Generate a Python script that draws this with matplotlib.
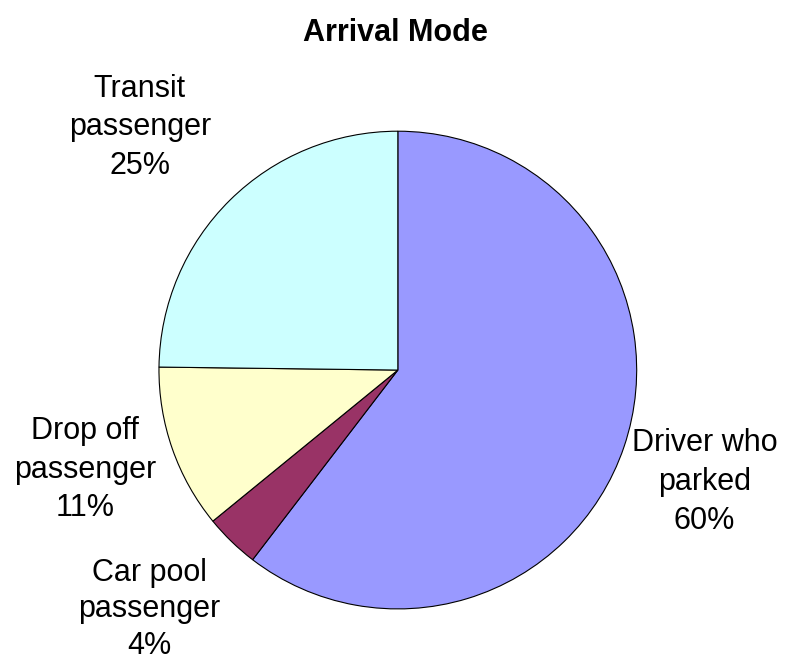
import numpy as np
import matplotlib.pyplot as plt

# arrival mode shares (%), clockwise from 12 o'clock
modes = ["Driver who\nparked", "Car pool\npassenger", "Drop off\npassenger", "Transit\npassenger"]
shares = [60.4, 3.7, 11.1, 24.8]
colors = ["#9999FF", "#993366", "#FFFFCC", "#CCFFFF"]
# label placement: radius (in pie radii) and angle nudge (deg) from wedge middle
label_dist = [1.367, 1.445, 1.375, 1.483]
label_nudge = [-1.3, -2.0, -1.6, 2.1]
label_spacing = [1.38, 1.28, 1.38, 1.38]

fig = plt.figure(figsize=(7.87, 6.62), dpi=100)
ax = fig.add_axes([0.202, 0.080, 0.607, 0.722])

wedges, _ = ax.pie(shares, colors=colors, startangle=90, counterclock=False,
                   wedgeprops=dict(edgecolor="black", linewidth=0.8))
ax.set_xlim(-1, 1)
ax.set_ylim(-1, 1)
ax.set_aspect("equal")

for w, name, val, d, nudge, ls in zip(wedges, modes, shares, label_dist,
                                      label_nudge, label_spacing):
    mid = np.deg2rad((w.theta1 + w.theta2) / 2 + nudge)
    ax.text(d * np.cos(mid), d * np.sin(mid), f"{name}\n{round(val):.0f}%",
            ha="center", va="center", fontsize=22, family="Liberation Sans",
            linespacing=ls, clip_on=False)

fig.text(0.502, 0.95, "Arrival Mode", ha="center", va="center", fontsize=22,
         fontweight="bold", family="Liberation Sans")

fig.savefig("out.png", dpi=100)
